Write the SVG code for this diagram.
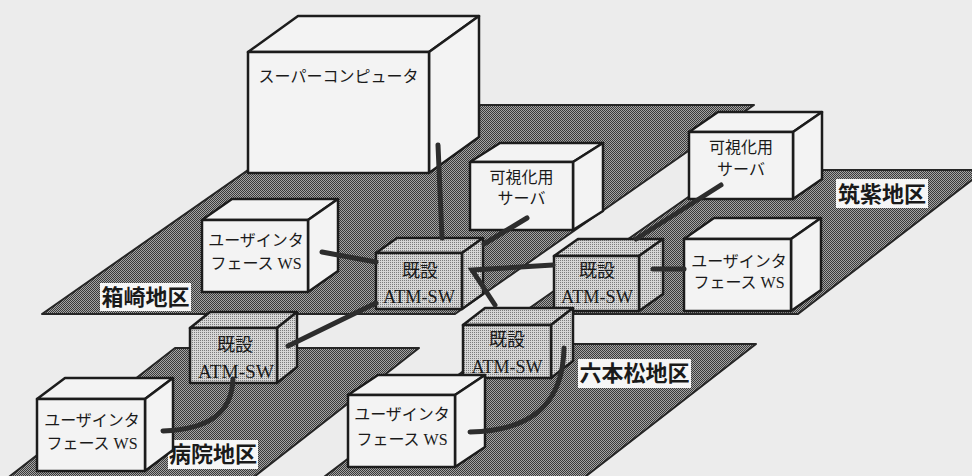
<svg xmlns="http://www.w3.org/2000/svg" width="972" height="476" viewBox="0 0 972 476">
<defs>
<pattern id="plate" width="2" height="2" patternUnits="userSpaceOnUse"><rect width="2" height="2" fill="#a4a4a4"/><rect width="1" height="1" fill="#3a3a3a"/><rect x="1" y="1" width="1" height="1" fill="#3a3a3a"/></pattern>
<pattern id="atm" width="2" height="2" patternUnits="userSpaceOnUse"><rect width="2" height="2" fill="#d6d6d6"/><rect width="1" height="1" fill="#7c7c7c"/></pattern>
</defs>
<style>
.plate{fill:url(#plate);stroke:#262626;stroke-width:2;stroke-linejoin:round}
.face{fill:#f3f3f3;stroke:#1c1c1c;stroke-width:2.5;stroke-linejoin:round}
.atm .face{fill:url(#atm)}
.lbg{fill:#f6f6f6}
.lbl{font-family:"Noto Sans CJK JP","Noto Sans CJK SC",sans-serif;font-weight:700;font-size:22px;fill:#1a1a1a;text-anchor:middle}
.t{font-family:"Liberation Serif","Noto Sans CJK JP",serif;font-size:16px;fill:#1a1a1a;text-anchor:middle}
.ta{font-family:"Liberation Serif","Noto Sans CJK JP",serif;font-size:18px;fill:#1a1a1a;text-anchor:middle}
.tb{font-family:"Liberation Serif",serif;font-size:19px;fill:#1a1a1a;text-anchor:middle}
.c{fill:none;stroke:#2d2d2d;stroke-width:5;stroke-linecap:round;stroke-linejoin:miter}
</style>
<rect width="972" height="476" fill="#ececec"/>

<g id="plates">
<polygon id="plate-hakozaki" class="plate" points="341,105 754,105 455,314 42,314"/>
<polygon id="plate-tsukushi" class="plate" points="727,170 985,170 798,314 521,314"/>
<polygon id="plate-byoin" class="plate" points="175,348 419,348 250,480 5,480"/>
<polygon id="plate-ropponmatsu" class="plate" points="499,344 756,344 581,480 320,480"/>
</g>

<g id="label-hakozaki"><rect class="lbg" x="100" y="283" width="91" height="28"/><text class="lbl" x="145.5" y="305">箱崎地区</text></g>
<g id="label-tsukushi"><rect class="lbg" x="836" y="179" width="92" height="29"/><text class="lbl" x="882" y="202">筑紫地区</text></g>
<g id="label-byoin"><rect class="lbg" x="168" y="440" width="90" height="29"/><text class="lbl" x="213" y="462">病院地区</text></g>
<g id="label-ropponmatsu"><rect class="lbg" x="578" y="359" width="113" height="29"/><text class="lbl" x="634.5" y="381">六本松地区</text></g>

<g id="supercomputer">
<polygon class="face" points="248,52 429,52 479,16 298,16"/>
<polygon class="face" points="429,52 479,16 479,137 429,173"/>
<rect class="face" x="248" y="52" width="181" height="121"/>
<text class="t" x="338.5" y="82">スーパーコンピュータ</text>
</g>

<g id="vis-server-tsukushi">
<polygon class="face" points="689,132 793,132 822,112 718,112"/>
<polygon class="face" points="793,132 822,112 822,179 793,199"/>
<rect class="face" x="689" y="132" width="104" height="67"/>
<text class="t" x="741" y="153">可視化用</text>
<text class="t" x="741" y="175">サーバ</text>
</g>

<g id="vis-server-hakozaki">
<polygon class="face" points="470,162 573,162 603,143 500,143"/>
<polygon class="face" points="573,162 603,143 603,211 573,230"/>
<rect class="face" x="470" y="162" width="103" height="68"/>
<text class="t" x="521.5" y="183">可視化用</text>
<text class="t" x="521.5" y="204">サーバ</text>
</g>

<g id="ws-hakozaki">
<polygon class="face" points="202,220 308,220 338,199 232,199"/>
<polygon class="face" points="308,220 338,199 338,271 308,292"/>
<rect class="face" x="202" y="220" width="106" height="72"/>
<text class="t" x="256" y="246">ユーザインタ</text>
<text class="t" x="256" y="269">フェース WS</text>
</g>

<g id="ws-tsukushi">
<polygon class="face" points="684,239 791,239 821,218 714,218"/>
<polygon class="face" points="791,239 821,218 821,290 791,311"/>
<rect class="face" x="684" y="239" width="107" height="72"/>
<text class="t" x="739" y="267">ユーザインタ</text>
<text class="t" x="739" y="288">フェース WS</text>
</g>

<g id="atm-hakozaki" class="atm">
<polygon class="face" points="376,253 462,253 483,238 397,238"/>
<polygon class="face" points="462,253 483,238 483,294 462,309"/>
<rect class="face" x="376" y="253" width="86" height="56"/>
<text class="ta" x="420" y="277">既設</text>
<text class="tb" x="419" y="303" textLength="72" lengthAdjust="spacingAndGlyphs">ATM-SW</text>
</g>

<g id="atm-tsukushi" class="atm">
<polygon class="face" points="554,256 639,256 663,239 578,239"/>
<polygon class="face" points="639,256 663,239 663,294 639,311"/>
<rect class="face" x="554" y="256" width="85" height="55"/>
<text class="ta" x="597" y="277">既設</text>
<text class="tb" x="597" y="303" textLength="72" lengthAdjust="spacingAndGlyphs">ATM-SW</text>
</g>

<g id="atm-ropponmatsu" class="atm">
<polygon class="face" points="463,325 551,325 573,308 485,308"/>
<polygon class="face" points="551,325 573,308 573,361 551,378"/>
<rect class="face" x="463" y="325" width="88" height="53"/>
<text class="ta" x="507" y="346">既設</text>
<text class="tb" x="507" y="373" textLength="71" lengthAdjust="spacingAndGlyphs">ATM-SW</text>
</g>

<g id="atm-byoin" class="atm">
<polygon class="face" points="190,328 277,328 297,312 210,312"/>
<polygon class="face" points="277,328 297,312 297,367 277,383"/>
<rect class="face" x="190" y="328" width="87" height="55"/>
<text class="ta" x="235" y="351">既設</text>
<text class="tb" x="236" y="378" textLength="76" lengthAdjust="spacingAndGlyphs">ATM-SW</text>
</g>

<g id="ws-ropponmatsu">
<polygon class="face" points="348,395 455,395 485,375 378,375"/>
<polygon class="face" points="455,395 485,375 485,447 455,467"/>
<rect class="face" x="348" y="395" width="107" height="72"/>
<text class="t" x="402" y="420">ユーザインタ</text>
<text class="t" x="402" y="445">フェース WS</text>
</g>

<g id="ws-byoin">
<polygon class="face" points="37,399 145,399 173,378 65,378"/>
<polygon class="face" points="145,399 173,378 173,450 145,471"/>
<rect class="face" x="37" y="399" width="108" height="72"/>
<text class="t" x="92" y="426">ユーザインタ</text>
<text class="t" x="92" y="449">フェース WS</text>
</g>

<g id="connectors">
<path class="c" d="M438,145 L442,238"/>
<path class="c" d="M322,252 L376,262"/>
<path class="c" d="M527,218 L484,244"/>
<path class="c" d="M288,346 L376,303" stroke-width="6"/>
<path class="c" d="M553,265 L472,270 L495,305"/>
<path class="c" d="M721,185 L636,239"/>
<path class="c" d="M653,269 L684,269" stroke-linecap="butt"/>
<path class="c" d="M564,348 C563,405 530,431 470,432"/>
<path class="c" d="M233,379 C232,412 210,429 163,431"/>
</g>
</svg>
